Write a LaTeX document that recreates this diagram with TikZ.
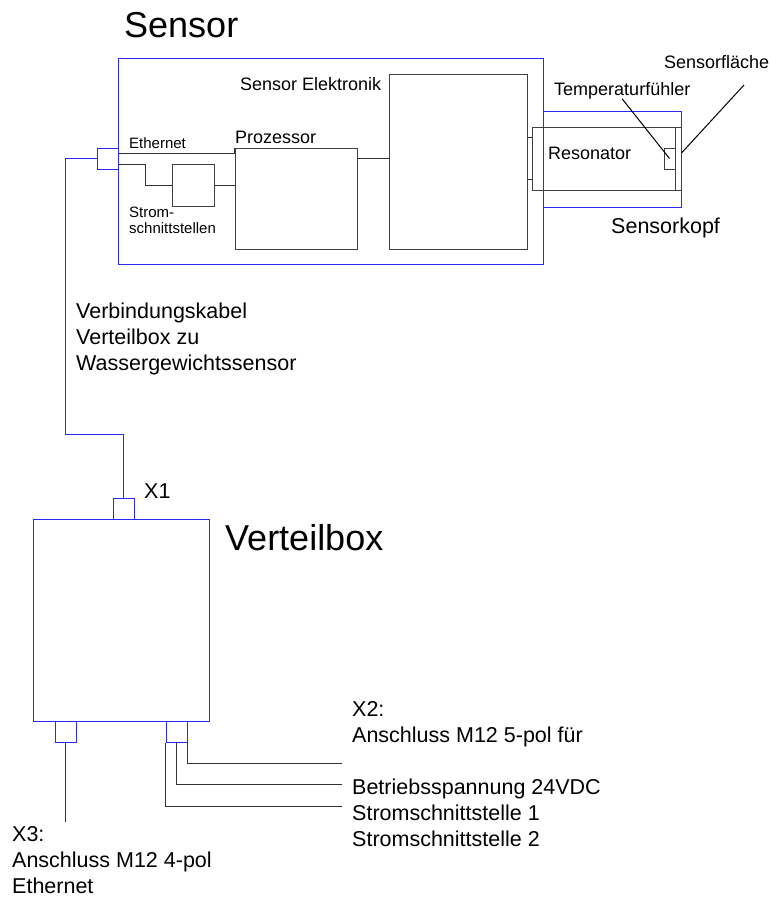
\documentclass[tikz,border=0pt]{standalone}
\usepackage{fontspec}
\setmainfont{Liberation Sans}
\usepackage{tikz}
\definecolor{boxblue}{RGB}{40,40,250}

\begin{document}
\begin{tikzpicture}[x=1pt, y=-1pt,
    box/.style = {draw=black!75, line width=1pt, rectangle, inner sep=0pt},
    bluebox/.style = {draw=boxblue, line width=1pt, rectangle, inner sep=0pt},
    wire/.style = {draw=black!80, line width=1pt},
    cable/.style = {draw=boxblue, line width=1pt},
    lbl/.style = {anchor=base west, inner sep=0pt, font=\fontsize{18}{21}\selectfont},
    small/.style = {lbl, align=left, font=\fontsize{15}{16}\selectfont},
    mid/.style = {lbl, align=left, font=\fontsize{21.5}{26}\selectfont},
    big/.style = {lbl, font=\fontsize{36}{40}\selectfont}]
        \fill[white] (0,0) rectangle (771,900);
        \useasboundingbox (0,0) rectangle (771,900);
        % sensor
        \node[bluebox, minimum width=425, minimum height=206] (sensor) at (330.5,161) {};
        \node[bluebox, minimum width=21, minimum height=21] (pc) at (107.5,158.5) {};
        \node[box, minimum width=42, minimum height=42] (strom) at (193,185) {};
        \node[box, minimum width=122, minimum height=101] (prozessor) at (296,198.5) {};
        \node[box, minimum width=138, minimum height=175] (elektronik) at (458,161.5) {};
        \node[bluebox, minimum width=138, minimum height=96] (kopf) at (612,159) {};
        \node[box, minimum width=149, minimum height=63] (resonator) at (606.5,158.5) {};
        \node[box, minimum width=6, minimum height=63] (flaeche) at (678,158.5) {};
        \node[box, minimum width=11, minimum height=21] (temp) at (669.5,158.5) {};
        \draw[wire] ([yshift=5.5pt]pc.east) -| (prozessor.north west);
        \draw[wire] ([yshift=-5.5pt]pc.east) -- ++(27,0) |- (strom.west);
        \draw[wire] (strom.east) -- (strom.east -| prozessor.west);
        \draw[wire] (prozessor.east |- pc.center) -- (elektronik.west |- pc.center);
        \draw[wire] ([yshift=21pt]resonator.west) -- ++(-5,0);
        \draw[wire] ([yshift=-21pt]resonator.west) -- ++(-5,0);
        % labels sensor
        \node[big] (sensortitle) at (124,37) {Sensor};
        \node[lbl] (elektroniklabel) at (240,90) {Sensor Elektronik};
        \node[lbl] (prozessorlabel) at (235,143) {Prozessor};
        \node[small] (ethlabel) at (129,148) {Ethernet};
        \node[small] (stromlabel) at (129,233) {Strom-\\schnittstellen};
        \node[lbl] (resonatorlabel) at (548,159) {Resonator};
        \node[lbl] (templabel) at (554,95) {Temperaturfühler};
        \node[lbl] (flaechelabel) at (664,68) {Sensorfläche};
        \node[mid] (kopflabel) at (611,233) {Sensorkopf};
        \coordinate (flaechezeiger) at (744,85);
        \draw[wire, black] (templabel.south) -- (temp.center);
        \draw[wire, black] (flaechezeiger) -- ([yshift=5.5pt]flaeche.east);
        % verteilbox
        \node[bluebox, minimum width=176, minimum height=202] (verteilbox) at (121,620) {};
        \node[bluebox, minimum width=21, minimum height=21] (x1) at (123.5,508.5) {};
        \node[bluebox, minimum width=21, minimum height=21] (x3) at (65.5,731.5) {};
        \node[bluebox, minimum width=21, minimum height=21] (x2) at (176.5,731.5) {};
        \coordinate (kabelknick) at (65,434);
        \draw[cable] (pc.west) -| (kabelknick) -| (x1.north);
        \coordinate (x3end) at (65.5,822);
        \coordinate (x2end1) at (342,763);
        \coordinate (x2end2) at (342,784);
        \coordinate (x2end3) at (342,806);
        \draw[wire] (x3.south) -- (x3end);
        \draw[wire] (x2.south east) |- (x2end1);
        \draw[wire] (x2.south) |- (x2end2);
        \draw[wire] (x2.south west) |- (x2end3);
        % labels verteilbox
        \node[mid] (kabellabel) at (76,370) {Verbindungskabel\\Verteilbox zu\\Wassergewichtssensor};
        \node[mid] (x1label) at (144,498) {X1};
        \node[big] (boxlabel) at (225,550) {Verteilbox};
        \node[mid] (x2label) at (352,846) {X2:\\Anschluss M12 5-pol für\\[26pt]Betriebsspannung 24VDC\\Stromschnittstelle 1\\Stromschnittstelle 2};
        \node[mid] (x3label) at (12,893) {X3:\\Anschluss M12 4-pol\\Ethernet};
      \end{tikzpicture}
\end{document}
